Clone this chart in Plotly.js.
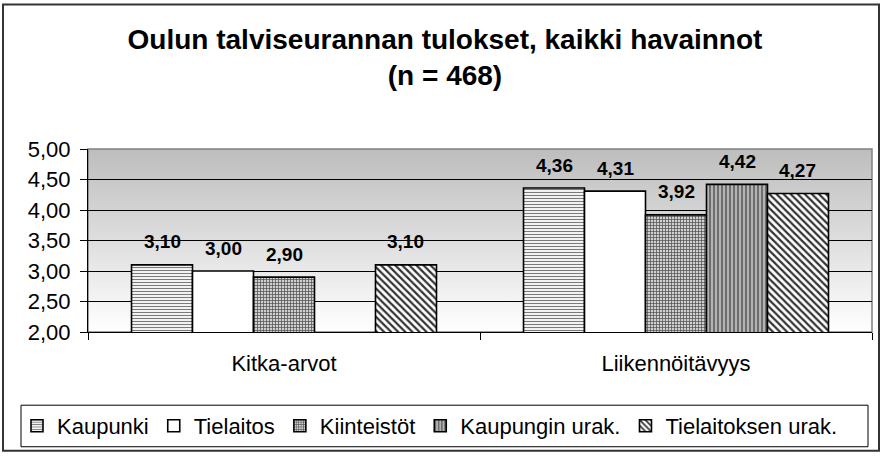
<!DOCTYPE html>
<html>
<head>
<meta charset="utf-8">
<script src="https://cdn.plot.ly/plotly-3.0.1.min.js"></script>
<style>
  html, body { margin: 0; padding: 0; background: #fff; }
  #chart { width: 881px; height: 456px; }
</style>
</head>
<body>
<div id="chart"></div>
<script>
// ---- data ----
const categories = ['Kitka-arvot', 'Liikennöitävyys'];
const seriesNames = ['Kaupunki', 'Tielaitos', 'Kiinteistöt', 'Kaupungin urak.', 'Tielaitoksen urak.'];
const kaupunki = [3.10, 4.36];
const tielaitos = [3.00, 4.31];
const kiinteistot = [2.90, 3.92];
const kaupunginUrak = [null, 4.42];
const tielaitoksenUrak = [3.10, 4.27];
const yTicks = [2.0, 2.5, 3.0, 3.5, 4.0, 4.5, 5.0];
const titleLines = ['Oulun talviseurannan tulokset, kaikki havainnot', '(n = 468)'];

const seriesValues = [kaupunki, tielaitos, kiinteistot, kaupunginUrak, tielaitoksenUrak];

// ---- styles ----
const FONT = 'Arial, "Liberation Sans", sans-serif';
const patterns = [
  {shape: '-', fgcolor: '#7a7a7a', bgcolor: '#ffffff', size: 3, solidity: 0.4},
  {shape: '', fgcolor: '#ffffff', bgcolor: '#ffffff', size: 4, solidity: 0.3},
  {shape: '+', fgcolor: '#4a4a4a', bgcolor: '#cfcfcf', size: 3, solidity: 0.4},
  {shape: '|', fgcolor: '#666666', bgcolor: '#b4b4b4', size: 4, solidity: 0.45},
  {shape: '\\', fgcolor: '#333333', bgcolor: '#ffffff', size: 5, solidity: 0.45}
];

const bargap = 0.222;

const traces = seriesNames.map((name, i) => ({
  type: 'bar',
  name: name,
  x: categories,
  y: seriesValues[i],
  marker: {
    color: '#ffffff',
    pattern: patterns[i],
    line: {color: '#000000', width: 1.6}
  },
  hoverinfo: 'skip'
}));

// data labels placed above bars
const annotations = [];
const n = seriesNames.length;
const groupW = 1 - bargap;
seriesValues.forEach((vals, i) => {
  vals.forEach((v, c) => {
    if (v === null) return;
    annotations.push({
      x: c - groupW / 2 + (i + 0.5) * groupW / n,
      y: v,
      xref: 'x', yref: 'y',
      text: v.toFixed(2).replace('.', ','),
      showarrow: false,
      yanchor: 'middle',
      yshift: 23,
      font: {family: FONT, size: 19, color: '#000', weight: 'bold'}
    });
  });
});

// plot area geometry (pixels)
const W = 881, H = 456;
const mL = 88, mR = 9, mT = 149, mB = 122;
const pw = W - mL - mR, ph = H - mT - mB;
const px = v => (v - mL) / pw;
const py = v => (H - mB - v) / ph;

// gradient background for plot area
const svgBg = '<svg xmlns="http://www.w3.org/2000/svg" width="100" height="100" preserveAspectRatio="none">' +
  '<defs><linearGradient id="g" x1="0" y1="0" x2="0" y2="1">' +
  '<stop offset="0" stop-color="#bdbdbd"/><stop offset="1" stop-color="#ffffff"/>' +
  '</linearGradient></defs><rect width="100" height="100" fill="url(#g)"/></svg>';
const bgSrc = 'data:image/svg+xml;charset=utf-8,' + encodeURIComponent(svgBg);

const shapes = [
  // plot-area border (top/right gray)
  {type: 'rect', xref: 'paper', yref: 'paper', x0: 0, x1: 1, y0: 0, y1: 1,
   line: {color: '#808080', width: 1.5}, layer: 'below'},
  // outer chart frame
  {type: 'rect', xref: 'paper', yref: 'paper',
   x0: px(3), x1: px(879), y0: py(454), y1: py(3),
   line: {color: '#333333', width: 2}},
  // legend frame
  {type: 'rect', xref: 'paper', yref: 'paper',
   x0: px(21), x1: px(868), y0: py(450), y1: py(408),
   line: {color: '#000000', width: 1}}
];

const layout = {
  width: W, height: H,
  margin: {l: mL, r: mR, t: mT, b: mB},
  paper_bgcolor: '#ffffff',
  plot_bgcolor: 'rgba(0,0,0,0)',
  separators: ', ',
  font: {family: FONT, color: '#000'},
  title: {
    text: titleLines.join('<br>'),
    font: {family: FONT, size: 28, color: '#000', weight: 'bold'},
    xref: 'container', x: 445 / W, xanchor: 'center',
    yref: 'container', y: 1 - 49 / H, yanchor: 'top'
  },
  barmode: 'group',
  bargap: bargap,
  bargroupgap: 0,
  xaxis: {
    type: 'category',
    showgrid: false,
    showline: true, linecolor: '#000', linewidth: 1,
    ticks: 'outside', tickson: 'boundaries', ticklen: 7, tickcolor: '#000',
    ticklabelstandoff: 12,
    tickfont: {family: FONT, size: 22, color: '#000'},
    fixedrange: true
  },
  yaxis: {
    range: [2, 5],
    tickvals: yTicks,
    tickformat: '.2f',
    showgrid: true, gridcolor: '#000', gridwidth: 1,
    showline: true, linecolor: '#000', linewidth: 1,
    ticks: 'outside', ticklen: 7, tickcolor: '#000',
    ticklabelstandoff: 5,
    tickfont: {family: FONT, size: 22, color: '#000'},
    zeroline: false,
    fixedrange: true
  },
  legend: {
    orientation: 'h',
    xref: 'paper', yref: 'paper',
    x: px(17), xanchor: 'left',
    y: py(429), yanchor: 'middle',
    font: {family: FONT, size: 22, color: '#000'},
    itemwidth: 30,
    borderwidth: 0,
    bgcolor: 'rgba(0,0,0,0)',
    traceorder: 'normal'
  },
  images: [{
    source: bgSrc, xref: 'paper', yref: 'paper',
    x: 0, y: 1, sizex: 1, sizey: 1, xanchor: 'left', yanchor: 'top',
    sizing: 'stretch', layer: 'below'
  }],
  shapes: shapes,
  annotations: annotations,
  showlegend: true
};

Plotly.newPlot('chart', traces, layout, {displayModeBar: false, staticPlot: true});
</script>
</body>
</html>
